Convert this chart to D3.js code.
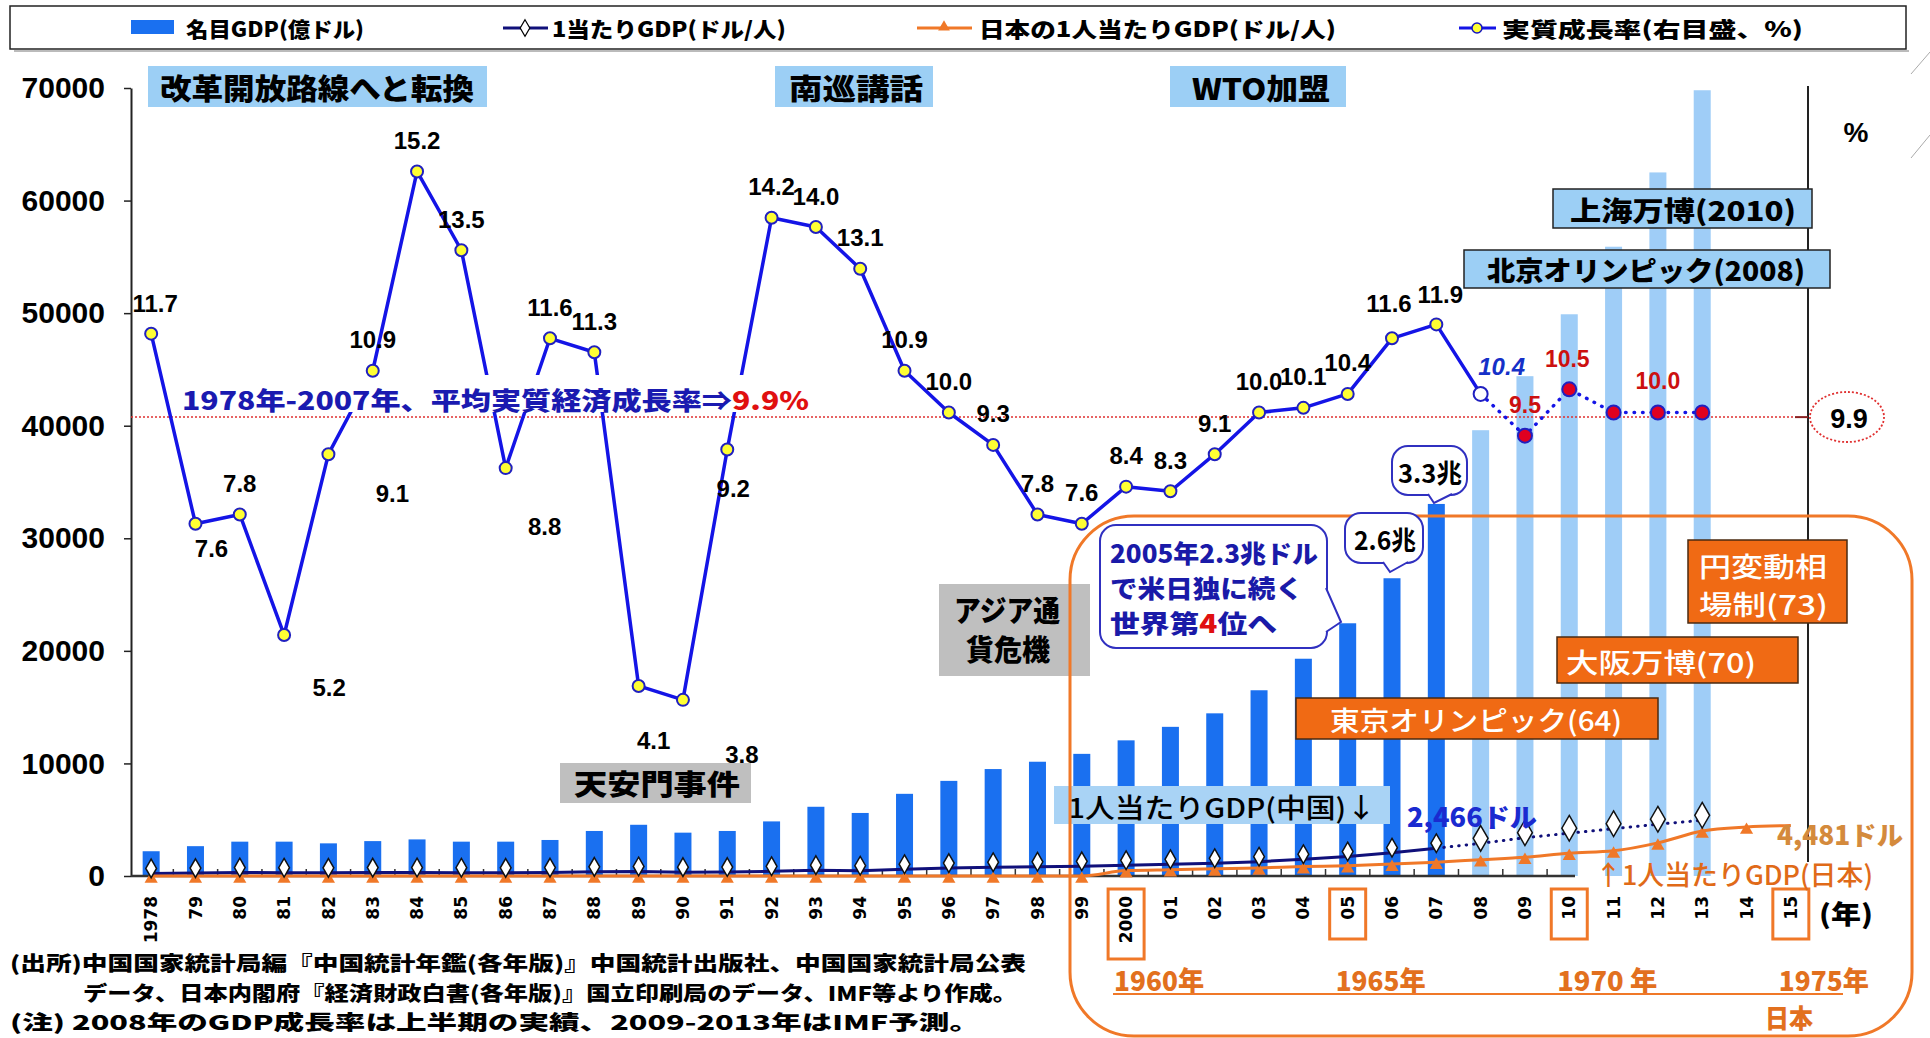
<!DOCTYPE html>
<html>
<head>
<meta charset="utf-8">
<script src="https://cdn.jsdelivr.net/npm/d3@7"></script>
<style>
  html, body { margin: 0; padding: 0; background: #fff; }
  svg { display: block; }
</style>
</head>
<body>
<svg id="chart" width="1930" height="1038"></svg>
<script>
// ---- data ----
const years = [1978, 1979, 1980, 1981, 1982, 1983, 1984, 1985, 1986, 1987, 1988, 1989, 1990,
  1991, 1992, 1993, 1994, 1995, 1996, 1997, 1998, 1999, 2000, 2001, 2002, 2003, 2004, 2005,
  2006, 2007, 2008, 2009, 2010, 2011, 2012, 2013, 2014, 2015];
const yearLabels = ["1978", "79", "80", "81", "82", "83", "84", "85", "86", "87", "88", "89", "90",
  "91", "92", "93", "94", "95", "96", "97", "98", "99", "2000", "01", "02", "03", "04", "05",
  "06", "07", "08", "09", "10", "11", "12", "13", "14", "15"];
// 名目GDP (億ドル)
const nominalGdp = [2200, 2650, 3050, 3050, 2900, 3100, 3250, 3050, 3050, 3200, 4000, 4550, 3850,
  4000, 4850, 6150, 5600, 7300, 8450, 9500, 10150, 10850, 12050, 13250, 14450, 16500, 19300, 22450,
  26450, 33050, 39600, 44400, 49900, 55900, 62500, 69800, null, null];
// 1人当たりGDP 中国 (ドル/人)
const perCapitaChina = [230, 260, 310, 290, 280, 300, 310, 290, 280, 300, 370, 400, 340,
  350, 420, 520, 470, 600, 700, 780, 820, 860, 950, 1040, 1130, 1270, 1490, 1730,
  2070, 2466, 2900, 3400, 3800, 4200, 4600, 4950, null, null];
// 日本の1人当たりGDP (ドル/人), 2000 = 1960年 ... 2015 = 1975年
const perCapitaJapan = [0, 0, 0, 0, 0, 0, 0, 0, 0, 0, 0, 0, 0,
  0, 0, 0, 0, 0, 0, 0, 0, 0, 479, 563, 633, 718, 836, 919,
  1058, 1228, 1450, 1669, 2026, 2234, 2941, 3997, 4353, 4481];
// 実質成長率 (%)
const growthRate = [11.7, 7.6, 7.8, 5.2, 9.1, 10.9, 15.2, 13.5, 8.8, 11.6, 11.3, 4.1, 3.8,
  9.2, 14.2, 14.0, 13.1, 10.9, 10.0, 9.3, 7.8, 7.6, 8.4, 8.3, 9.1, 10.0, 10.1, 10.4,
  11.6, 11.9, 10.4, 9.5, 10.5, 10.0, 10.0, 10.0, null, null];
const growthUnlabelled = [2011, 2013];
const leftTicks = [0, 10000, 20000, 30000, 40000, 50000, 60000, 70000];
const japanYearLabels = ["1960年", "1965年", "1970 年", "1975年"];
const japanYearsAt = [2000, 2005, 2010, 2015];
const forecastFrom = 2008;
const averageGrowth = 9.9;

// ---- setup ----
const svg = d3.select("#chart");
const JP = "'Noto Sans CJK JP', sans-serif";
const NUM = "'Liberation Sans', sans-serif";
const ORANGE = "#f07828";

const x = d3.scaleBand().domain(years).range([129, 1813]);
const cx = d => x(d) + x.bandwidth() / 2;
const y = d3.scaleLinear().domain([0, 70000]).range([876, 88]);
const yR = d3.scaleLinear().domain([0, 17]).range([876, 88]);

const rows = years.map((yr, i) => ({
  year: yr, label: yearLabels[i], gdp: nominalGdp[i], cn: perCapitaChina[i],
  jp: perCapitaJapan[i], g: growthRate[i]
}));

function label(g, txt, o) {
  const t = g.append("text")
    .attr("x", o.x).attr("y", o.y)
    .attr("font-family", o.font || JP)
    .attr("font-size", o.size || 24)
    .attr("font-weight", o.weight || 700)
    .attr("font-style", o.italic ? "italic" : null)
    .attr("fill", o.fill || "#000")
    .attr("text-anchor", o.anchor || "start")
    .attr("dominant-baseline", "central")
    .text(txt);
  if (o.len) t.attr("textLength", o.len).attr("lengthAdjust", "spacingAndGlyphs");
  return t;
}

function box(g, x0, y0, x1, y1, fill, stroke, sw) {
  return g.append("rect")
    .attr("x", x0).attr("y", y0).attr("width", x1 - x0).attr("height", y1 - y0)
    .attr("fill", fill).attr("stroke", stroke || "none").attr("stroke-width", sw || 0);
}

// ---- legend ----
const legend = svg.append("g");
legend.append("line").attr("x1", 14).attr("x2", 1909).attr("y1", 51).attr("y2", 51)
  .attr("stroke", "#bbb").attr("stroke-width", 2);
box(legend, 10, 6, 1906, 49, "#fff", "#222", 1.5);
box(legend, 131, 20, 174, 34, "#1a70f0");
label(legend, "名目GDP(億ドル)", { x: 186, y: 28, size: 21, weight: 900, len: 178 });
legend.append("line").attr("x1", 503).attr("x2", 548).attr("y1", 28).attr("y2", 28)
  .attr("stroke", "#10107a").attr("stroke-width", 3);
legend.append("path").attr("d", d3.symbol(d3.symbolDiamond, 80)())
  .attr("transform", "translate(525,28)").attr("fill", "#fff").attr("stroke", "#000").attr("stroke-width", 1.2);
label(legend, "1当たりGDP(ドル/人)", { x: 552, y: 28, size: 21, weight: 900, len: 234 });
legend.append("line").attr("x1", 917).attr("x2", 972).attr("y1", 28).attr("y2", 28)
  .attr("stroke", ORANGE).attr("stroke-width", 3);
legend.append("path").attr("d", d3.symbol(d3.symbolTriangle, 60)())
  .attr("transform", "translate(944,27)").attr("fill", ORANGE);
label(legend, "日本の1人当たりGDP(ドル/人)", { x: 979, y: 28, size: 21, weight: 900, len: 357 });
legend.append("line").attr("x1", 1459).attr("x2", 1496).attr("y1", 28).attr("y2", 28)
  .attr("stroke", "#1414e6").attr("stroke-width", 3);
legend.append("circle").attr("cx", 1477).attr("cy", 28).attr("r", 5)
  .attr("fill", "#ffff33").attr("stroke", "#1414c0").attr("stroke-width", 1.5);
label(legend, "実質成長率(右目盛、%)", { x: 1502, y: 28, size: 21, weight: 900, len: 301 });

svg.append("line").attr("x1", 1911).attr("y1", 74).attr("x2", 1930).attr("y2", 52).attr("stroke", "#aaa");
svg.append("line").attr("x1", 1911).attr("y1", 158).attr("x2", 1930).attr("y2", 135).attr("stroke", "#aaa");

// ---- bars ----
const barW = 17;
svg.append("g").selectAll("rect")
  .data(rows.filter(d => d.gdp != null))
  .join("rect")
  .attr("x", d => cx(d.year) - barW / 2)
  .attr("width", barW)
  .attr("y", d => y(d.gdp))
  .attr("height", d => y(0) - y(d.gdp))
  .attr("fill", d => d.year >= forecastFrom ? "#9fcdf7" : "#1a70f0");

// ---- axes ----
const leftAxis = svg.append("g")
  .attr("transform", "translate(131,0)")
  .call(d3.axisLeft(y).tickValues(leftTicks).tickFormat(d3.format("d"))
    .tickSize(7).tickSizeOuter(0).tickPadding(19));
leftAxis.select(".domain").attr("stroke", "#222").attr("stroke-width", 2);
leftAxis.selectAll(".tick line").attr("stroke", "#222").attr("stroke-width", 1.5);
leftAxis.selectAll("text")
  .attr("font-family", NUM).attr("font-size", 30).attr("font-weight", 700).attr("fill", "#000");

// right axis line
svg.append("line").attr("x1", 1808).attr("x2", 1808).attr("y1", 86).attr("y2", 862)
  .attr("stroke", "#222").attr("stroke-width", 2);
svg.append("line").attr("x1", 1795).attr("x2", 1808).attr("y1", yR(averageGrowth)).attr("y2", yR(averageGrowth))
  .attr("stroke", "#8a2020").attr("stroke-width", 2);

// x axis
svg.append("line").attr("x1", 131).attr("x2", 1575).attr("y1", 876).attr("y2", 876)
  .attr("stroke", "#333").attr("stroke-width", 2.5);
svg.append("g").selectAll("line")
  .data(years.filter(d => d > 1978 && d <= 2010))
  .join("line")
  .attr("x1", d => x(d)).attr("x2", d => x(d))
  .attr("y1", 876).attr("y2", 869)
  .attr("stroke", "#333").attr("stroke-width", 1.5);

const xAxis = svg.append("g")
  .attr("transform", "translate(0,876)")
  .call(d3.axisBottom(x).tickFormat((d, i) => yearLabels[i]).tickSize(0));
xAxis.select(".domain").remove();
xAxis.selectAll("text")
  .attr("transform", "rotate(-90)")
  .attr("x", -20).attr("y", 0).attr("dy", "0.36em")
  .attr("text-anchor", "end")
  .attr("font-family", "'DejaVu Sans', sans-serif")
  .attr("font-size", 17).attr("font-weight", 700).attr("fill", "#000");

// boxed years
const boxes = svg.append("g");
japanYearsAt.forEach(yr => {
  boxes.append("rect")
    .attr("x", cx(yr) - 18).attr("y", 889)
    .attr("width", 36).attr("height", yr === 2000 ? 70 : 50)
    .attr("fill", "none").attr("stroke", ORANGE).attr("stroke-width", 3);
});
label(svg, "(年)", { x: 1819, y: 912, size: 26, weight: 900, len: 54 });

// ---- average line ----
svg.append("line")
  .attr("x1", 131).attr("x2", 1795)
  .attr("y1", yR(averageGrowth)).attr("y2", yR(averageGrowth))
  .attr("stroke", "#e03030").attr("stroke-width", 1.5).attr("stroke-dasharray", "2,2");
svg.append("ellipse").attr("cx", 1847).attr("cy", 417).attr("rx", 37).attr("ry", 25)
  .attr("fill", "none").attr("stroke", "#e03030").attr("stroke-width", 1.8).attr("stroke-dasharray", "2,2");
label(svg, "9.9", { x: 1849, y: 419, size: 27, font: NUM, anchor: "middle" });
label(svg, "%", { x: 1856, y: 132, size: 28, font: NUM, anchor: "middle" });

// ---- annotation boxes ----
const ann = svg.append("g");
box(ann, 148, 66, 487, 107, "#9ccff5");
label(ann, "改革開放路線へと転換", { x: 160, y: 87, size: 29, weight: 900, len: 314 });
box(ann, 775, 66, 933, 107, "#9ccff5");
label(ann, "南巡講話", { x: 789, y: 87, size: 29, weight: 900, len: 134 });
box(ann, 1170, 66, 1346, 107, "#9ccff5");
label(ann, "WTO加盟", { x: 1192, y: 87, size: 29, weight: 900, len: 138 });
box(ann, 1553, 189, 1812, 228, "#9ccff5", "#222", 1.5);
label(ann, "上海万博(2010)", { x: 1570, y: 209, size: 27, weight: 900, len: 226 });
box(ann, 1464, 250, 1830, 288, "#9ccff5", "#222", 1.5);
label(ann, "北京オリンピック(2008)", { x: 1487, y: 269, size: 27, weight: 900, len: 318 });

box(ann, 560, 763, 751, 803, "#bfbfbf");
label(ann, "天安門事件", { x: 574, y: 783, size: 28, weight: 900, len: 166 });
box(ann, 939, 584, 1090, 676, "#bfbfbf");
label(ann, "アジア通", { x: 954, y: 609, size: 29, weight: 900, len: 106 });
label(ann, "貨危機", { x: 966, y: 648, size: 29, weight: 900, len: 84 });

box(ann, 1296, 698, 1658, 739, "#f06a14", "#4a2a10", 1.5);
label(ann, "東京オリンピック(64)", { x: 1330, y: 719, size: 27, weight: 500, fill: "#fff", len: 292 });
box(ann, 1557, 637, 1798, 683, "#f06a14", "#4a2a10", 1.5);
label(ann, "大阪万博(70)", { x: 1566, y: 661, size: 27, weight: 500, fill: "#fff", len: 190 });
box(ann, 1688, 540, 1847, 623, "#f06a14", "#4a2a10", 1.5);
label(ann, "円変動相", { x: 1699, y: 565, size: 27, weight: 500, fill: "#fff", len: 128 });
label(ann, "場制(73)", { x: 1699, y: 603, size: 27, weight: 500, fill: "#fff", len: 129 });

box(ann, 1054, 786, 1390, 824, "#a9d3f5");
label(ann, "1人当たりGDP(中国)↓", { x: 1068, y: 806, size: 27, weight: 500, len: 308 });

// big rounded frame (under the callouts)
ann.append("rect").attr("x", 1070).attr("y", 516).attr("width", 842).attr("height", 520)
  .attr("rx", 64).attr("fill", "none").attr("stroke", ORANGE).attr("stroke-width", 3);

// callouts
function callout(g, x0, y0, x1, y1, tail) {
  g.append("rect").attr("x", x0).attr("y", y0).attr("width", x1 - x0).attr("height", y1 - y0)
    .attr("rx", 16).attr("fill", "#fff").attr("stroke", "#3030c0").attr("stroke-width", 2);
  g.append("path").attr("d", d3.line()(tail))
    .attr("fill", "#fff").attr("stroke", "#3030c0").attr("stroke-width", 2);
}
callout(ann, 1100, 525, 1327, 648, [[1326, 588], [1341, 622], [1326, 632]]);
label(ann, "2005年2.3兆ドル", { x: 1110, y: 552, size: 25, weight: 900, fill: "#1a1aa8", len: 208 });
label(ann, "で米日独に続く", { x: 1110, y: 587, size: 25, weight: 900, fill: "#1a1aa8", len: 193 });
const l3 = label(ann, "", { x: 1110, y: 622, size: 25, weight: 900, fill: "#1a1aa8", len: 167 });
l3.append("tspan").text("世界第");
l3.append("tspan").attr("fill", "#e01010").text("4");
l3.append("tspan").text("位へ");
callout(ann, 1345, 513, 1423, 563, [[1383, 562], [1390, 572], [1408, 562]]);
label(ann, "2.6兆", { x: 1354, y: 538, size: 26, weight: 700, len: 62 });
callout(ann, 1392, 446, 1467, 495, [[1428, 494], [1434, 503], [1452, 494]]);
label(ann, "3.3兆", { x: 1398, y: 471, size: 26, weight: 700, len: 64 });

// ---- growth rate line ----
const gLine = d3.line().x(d => cx(d.year)).y(d => yR(d.g));
const gRows = rows.filter(d => d.g != null);
svg.append("path").datum(gRows.filter(d => d.year <= forecastFrom))
  .attr("d", gLine).attr("fill", "none").attr("stroke", "#1414e6").attr("stroke-width", 3.5)
  .attr("stroke-linejoin", "round");
svg.append("path").datum(gRows.filter(d => d.year >= forecastFrom))
  .attr("d", gLine).attr("fill", "none").attr("stroke", "#1414e6").attr("stroke-width", 3.5)
  .attr("stroke-dasharray", "0.5,8").attr("stroke-linecap", "round");

// white band behind average text
box(svg, 180, 375, 812, 412, "#fff");
const avgText = label(svg, "", { x: 182, y: 399, size: 25, weight: 900, fill: "#1a1ab0", len: 627 });
avgText.append("tspan").text("1978年-2007年、平均実質経済成長率⇒");
avgText.append("tspan").attr("fill", "#e01010").text("9.9%");

svg.append("g").selectAll("circle")
  .data(gRows)
  .join("circle")
  .attr("cx", d => cx(d.year)).attr("cy", d => yR(d.g))
  .attr("r", d => d.year >= forecastFrom ? 7 : 6)
  .attr("fill", d => d.year < forecastFrom ? "#ffff33" : d.year === forecastFrom ? "#fff" : "#e00020")
  .attr("stroke", "#2020c0").attr("stroke-width", 2);

// growth labels
const labelShift = {
  1978: [4, -30], 1979: [16, 25], 1981: [45, 53], 1982: [64, 39], 1986: [39, 58],
  1989: [15, 55], 1990: [59, 55], 1991: [6, 39], 2006: [-3, -35], 2007: [4, -30],
  2008: [21, -27], 2010: [-2, -30]
};
svg.append("g").selectAll("text")
  .data(gRows.filter(d => !growthUnlabelled.includes(d.year)))
  .join("text")
  .attr("x", d => cx(d.year) + (labelShift[d.year] || [0, -31])[0])
  .attr("y", d => yR(d.g) + (labelShift[d.year] || [0, -31])[1])
  .attr("text-anchor", "middle").attr("dominant-baseline", "central")
  .attr("font-family", NUM)
  .attr("font-size", d => d.year > forecastFrom ? 23 : 24)
  .attr("font-weight", 700)
  .attr("font-style", d => d.year === forecastFrom ? "italic" : null)
  .attr("fill", d => d.year === forecastFrom ? "#1530c8" : d.year > forecastFrom ? "#cc1010" : "#000")
  .text(d => d.g.toFixed(1));

// ---- per-capita lines ----
const pcLine = key => d3.line().x(d => cx(d.year)).y(d => y(d[key]));
const cnRows = rows.filter(d => d.cn != null);
svg.append("path").datum(cnRows.filter(d => d.year < forecastFrom))
  .attr("d", pcLine("cn")).attr("fill", "none").attr("stroke", "#10107a").attr("stroke-width", 3);
svg.append("path").datum(cnRows.filter(d => d.year >= forecastFrom - 1))
  .attr("d", pcLine("cn")).attr("fill", "none").attr("stroke", "#10107a").attr("stroke-width", 3)
  .attr("stroke-dasharray", "0.5,7").attr("stroke-linecap", "round");
svg.append("path").datum(rows)
  .attr("d", pcLine("jp").curve(d3.curveMonotoneX)).attr("fill", "none").attr("stroke", ORANGE).attr("stroke-width", 3);

svg.append("g").selectAll("path")
  .data(rows.filter(d => d.year < 2015))
  .join("path")
  .attr("d", d3.symbol(d3.symbolTriangle, 75)())
  .attr("transform", d => `translate(${cx(d.year)},${y(d.jp) + 3})`)
  .attr("fill", ORANGE);
svg.append("g").selectAll("path")
  .data(cnRows)
  .join("path")
  .attr("d", d => d3.symbol(d3.symbolDiamond, d.year >= forecastFrom ? 190 : 100)())
  .attr("transform", d => `translate(${cx(d.year)},${y(d.cn) - 5})`)
  .attr("fill", "#fff").attr("stroke", "#111").attr("stroke-width", 1.5);

label(svg, "2,466ドル", { x: 1407, y: 815, size: 26, weight: 900, fill: "#1a2ad0", len: 130 });
label(svg, "4,481ドル", { x: 1777, y: 833, size: 26, weight: 900, fill: "#d48a3c", len: 126 });
label(svg, "↑1人当たりGDP(日本)", { x: 1595, y: 873, size: 27, weight: 500, fill: "#e06a18", len: 278 });

// ---- Japan years ----
japanYearsAt.forEach((yr, i) => {
  label(svg, japanYearLabels[i], { x: cx(yr) - 12, y: 979, size: 27, weight: 900, fill: "#e2701e", len: i === 2 ? 100 : 90 });
});
svg.append("line").attr("x1", 1113).attr("x2", 1843).attr("y1", 994).attr("y2", 994)
  .attr("stroke", ORANGE).attr("stroke-width", 2);
label(svg, "日本", { x: 1765, y: 1016, size: 26, weight: 900, fill: "#e2701e", len: 48 });

// ---- footnotes ----
label(svg, "(出所)中国国家統計局編『中国統計年鑑(各年版)』中国統計出版社、中国国家統計局公表",
  { x: 10, y: 962, size: 20, weight: 900, len: 1016 });
label(svg, "データ、日本内閣府『経済財政白書(各年版)』国立印刷局のデータ、IMF等より作成。",
  { x: 83, y: 992, size: 20, weight: 900, len: 934 });
label(svg, "(注) 2008年のGDP成長率は上半期の実績、2009-2013年はIMF予測。",
  { x: 10, y: 1021, size: 20, weight: 900, len: 970 });
</script>
</body>
</html>
